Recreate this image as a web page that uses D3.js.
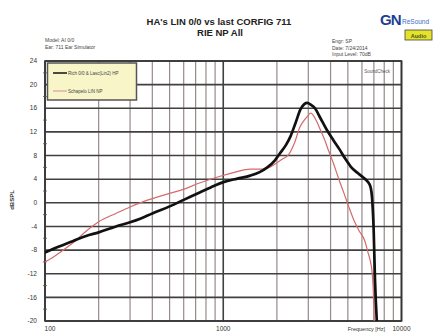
<!DOCTYPE html>
<html>
<head>
<meta charset="utf-8">
<script src="https://cdn.jsdelivr.net/npm/d3@7"></script>
<style>
  html, body { margin: 0; padding: 0; background: #fff; }
  svg { display: block; font-family: "Liberation Sans", Arial, sans-serif; }
</style>
</head>
<body>
<svg id="chart" width="435" height="336"></svg>
<script>
// ---- data ----
const blackFreq = [100,120,143,170,200,250,300,342,400,500,600,743,850,1000,1200,1418,1600,1766,1950,2094,2250,2380,2550,2710,2850,2960,3100,3270,3500,3800,4150,4500,4850,5200,5700,6150,6450,6700,6850,6980,7100,7300];
const blackDb   = [-8.4,-7.4,-6.5,-5.6,-5.0,-4.0,-3.3,-2.7,-1.8,-0.6,0.5,1.8,2.6,3.5,4.1,4.6,5.2,6.0,7.2,8.5,9.8,11.2,13.6,15.8,16.7,16.9,16.6,16.0,14.4,12.4,10.6,9.0,7.4,6.1,5.0,4.2,3.6,2.7,0.5,-4.6,-13,-21];
const redFreq = [100,110,125,143,170,200,250,300,342,400,500,574,743,960,1140,1420,1670,1850,2000,2150,2320,2500,2700,2850,2960,3100,3200,3340,3500,3700,3900,4150,4450,4760,5050,5400,5800,6200,6500,6700,6850,6950,7050];
const redDb   = [-10.0,-9.3,-8.1,-6.8,-4.8,-3.2,-1.8,-0.7,0.0,0.7,1.6,2.1,3.4,4.5,5.1,5.7,5.7,6.1,6.8,7.4,8.1,10.0,12.9,14.0,14.6,15.2,14.8,13.8,12.4,10.7,8.8,6.7,4.0,1.6,-0.6,-2.9,-4.8,-6.3,-8.5,-10.0,-11.9,-15,-21];
const seriesNames = ["Rich 0/0 & Lasc(Lin2) HP", "Schapelo LIN NP"];
const yTicks = [24,20,16,12,8,4,0,-4,-8,-12,-16,-20];
const yMinorTicks = [22,18,14,10,6,2,-2,-6,-10,-14,-18];
const xMajor = [100,1000,10000];
const xMinor = [200,300,400,500,600,700,800,900,2000,3000,4000,5000,6000,7000,8000,9000];
const xLabels = ["100","1000","10000"];
const titleLines = ["HA's LIN 0/0 vs last CORFIG 711", "RIE NP All"];
const headerLeft = ["Model: AI 0/0", "Ear: 711 Ear Simulator"];
const headerRight = ["Engr: SP", "Date: 7/24/2014", "Input Level: 70dB"];

// ---- layout ----
const svg = d3.select("#chart");
const L = 45, R = 401.5, T = 61, B = 321;
const x = d3.scaleLog().domain([100, 10000]).range([L, R]);
const y = d3.scaleLinear().domain([-20, 24]).range([B, T]);

// gridlines
const g = svg.append("g");
g.selectAll(".vmin").data(xMinor).join("line")
  .attr("x1", d => x(d)).attr("x2", d => x(d)).attr("y1", T).attr("y2", B)
  .attr("stroke", "#968a8a").attr("stroke-width", 1.2);
g.selectAll(".hmaj").data(yTicks).join("line")
  .attr("x1", L).attr("x2", R).attr("y1", d => y(d)).attr("y2", d => y(d))
  .attr("stroke", "#404040").attr("stroke-width", 1.6);
g.selectAll(".vmaj").data(xMajor).join("line")
  .attr("x1", d => x(d)).attr("x2", d => x(d)).attr("y1", T).attr("y2", B)
  .attr("stroke", "#404040").attr("stroke-width", 1.6);
// frame
g.append("rect").attr("x", L).attr("y", T).attr("width", R - L).attr("height", B - T)
  .attr("fill", "none").attr("stroke", "#333").attr("stroke-width", 1.6);

// y axis labels & minor ticks
svg.append("g").selectAll("text").data(yTicks).join("text")
  .attr("x", 37).attr("y", d => y(d) + 2.2)
  .attr("text-anchor", "end").attr("font-size", 6.5).attr("fill", "#333")
  .text(d => d);
svg.append("g").selectAll("line").data(yMinorTicks).join("line")
  .attr("x1", L - 2).attr("x2", L + 2).attr("y1", d => y(d)).attr("y2", d => y(d))
  .attr("stroke", "#555").attr("stroke-width", 0.8);
svg.append("text").attr("transform", "translate(14,200) rotate(-90)")
  .attr("text-anchor", "middle").attr("font-size", 6).attr("fill", "#333").attr("font-weight", "bold")
  .text("dBSPL");

// x axis labels
svg.append("g").selectAll("text").data(xMajor).join("text")
  .attr("x", (d, i) => x(d) + (i === 0 ? 5 : 0)).attr("y", 331)
  .attr("text-anchor", "middle").attr("font-size", 6.5).attr("fill", "#333")
  .text((d, i) => xLabels[i]);
svg.append("text").attr("x", 385).attr("y", 331).attr("text-anchor", "end")
  .attr("font-size", 5.5).attr("fill", "#333").text("Frequency [Hz]");

// clip
svg.append("clipPath").attr("id", "clip").append("rect")
  .attr("x", L).attr("y", T).attr("width", R - L).attr("height", B - T);

const line = d3.line().x(d => x(d[0])).y(d => y(d[1])).curve(d3.curveMonotoneX);
const redPts = redFreq.map((f, i) => [f, redDb[i]]);
const blackPts = blackFreq.map((f, i) => [f, blackDb[i]]);
svg.append("path").attr("clip-path", "url(#clip)").attr("d", line(redPts))
  .attr("fill", "none").attr("stroke", "#d46a6a").attr("stroke-width", 1.2);
svg.append("path").attr("clip-path", "url(#clip)").attr("d", line(blackPts))
  .attr("fill", "none").attr("stroke", "#111").attr("stroke-width", 2.7);

// legend
const lg = svg.append("g");
lg.append("rect").attr("x", 47.5).attr("y", 63).attr("width", 89).attr("height", 37)
  .attr("fill", "#f8f5c8").attr("stroke", "#555").attr("stroke-width", 1.5);
const legColors = ["#111", "#d9a0a0"];
const legY = [73, 91];
seriesNames.forEach((name, i) => {
  lg.append("line").attr("x1", 53).attr("x2", 67).attr("y1", legY[i]).attr("y2", legY[i])
    .attr("stroke", legColors[i]).attr("stroke-width", i === 0 ? 1.5 : 1.2);
  lg.append("text").attr("x", 68).attr("y", legY[i] + 1.5).attr("font-size", 4.5).attr("fill", "#444").text(name);
});

// SoundCheck
svg.append("text").attr("x", 390).attr("y", 73).attr("text-anchor", "end")
  .attr("font-size", 4.5).attr("fill", "#555").text("SoundCheck");

// titles
svg.append("text").attr("x", 219).attr("y", 25).attr("text-anchor", "middle")
  .attr("font-size", 9.5).attr("font-weight", "bold").attr("fill", "#222").text(titleLines[0]);
svg.append("text").attr("x", 220).attr("y", 36).attr("text-anchor", "middle")
  .attr("font-size", 9.5).attr("font-weight", "bold").attr("fill", "#222").text(titleLines[1]);

// headers
headerLeft.forEach((t, i) => {
  svg.append("text").attr("x", 45).attr("y", 42 + i * 6.5).attr("font-size", 5)
    .attr("fill", "#444").text(t);
});
headerRight.forEach((t, i) => {
  svg.append("text").attr("x", 332).attr("y", 43 + i * 6.5).attr("font-size", 5)
    .attr("fill", "#444").text(t);
});

// logo
svg.append("text").attr("x", 380).attr("y", 25).attr("font-size", 15).attr("font-weight", "bold")
  .attr("fill", "#1c3f8f").attr("letter-spacing", -1).text("GN");
svg.append("text").attr("x", 402).attr("y", 24).attr("font-size", 6.5)
  .attr("fill", "#3d6fc2").text("ReSound");
svg.append("rect").attr("x", 405).attr("y", 30).attr("width", 27).attr("height", 10)
  .attr("fill", "#e6e22a").attr("stroke", "#444").attr("stroke-width", 0.8);
svg.append("text").attr("x", 418.5).attr("y", 37.5).attr("text-anchor", "middle")
  .attr("font-size", 5.5).attr("font-weight", "bold").attr("fill", "#3a5a20").text("Audio");
</script>
</body>
</html>
